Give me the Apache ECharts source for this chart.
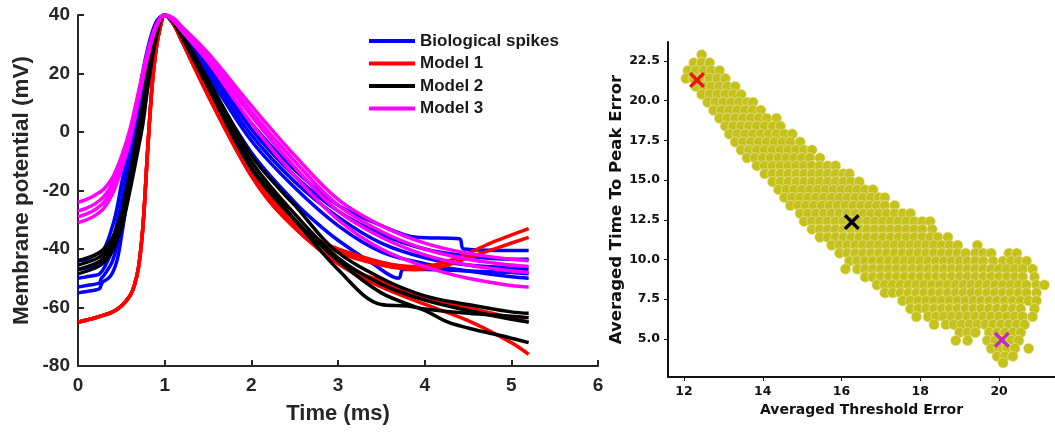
<!DOCTYPE html>
<html>
<head>
<meta charset="utf-8">
<script src="https://cdn.jsdelivr.net/npm/echarts@6/dist/echarts.min.js"></script>
<style>
html,body{margin:0;padding:0;background:#fff;}
#c{width:1055px;height:432px;}
</style>
</head>
<body>
<div id="c"></div>
<script>
// ---------- Left panel: action potential traces ([time ms, mV]) ----------
const legendNames = ['Biological spikes', 'Model 1', 'Model 2', 'Model 3'];
const xTicksLeft = [0, 1, 2, 3, 4, 5, 6];
const yTicksLeft = [-80, -60, -40, -20, 0, 20, 40];

const bio1 = [[0,-44],[0.1,-43.5],[0.2,-42],[0.3,-40],[0.4,-32],[0.45,-26],[0.5,-18],[0.6,-3],[0.7,13],[0.8,28],[0.9,37.5],[1.0,40],[1.1,38],[1.2,34],[1.5,23],[2.0,3],[2.5,-13],[3.0,-25],[3.5,-32],[3.9,-36],[4.4,-36.5],[4.45,-40],[5.0,-40.5],[5.2,-40.5]];
const bio2 = [[0,-47],[0.1,-46.5],[0.2,-45.5],[0.25,-45],[0.3,-44],[0.4,-37],[0.5,-24],[0.6,-7],[0.7,9],[0.8,26],[0.9,37],[1.0,40],[1.1,38],[1.2,33.5],[1.5,22],[2.0,1],[2.5,-15],[3.0,-27],[3.5,-35],[4.0,-40],[4.5,-42.5],[5.0,-43.5],[5.2,-43.5]];
const bio3 = [[0,-50],[0.1,-49.5],[0.2,-49],[0.25,-48.5],[0.3,-46.5],[0.4,-40],[0.5,-27],[0.6,-10],[0.7,7],[0.8,25],[0.9,36.5],[1.0,40],[1.1,37.5],[1.2,33],[1.5,20.5],[2.0,-1],[2.5,-17],[3.0,-29],[3.5,-38],[4.0,-43],[4.5,-45.5],[5.0,-46.5],[5.2,-47]];
const bio4 = [[0,-53],[0.1,-52.5],[0.2,-52],[0.25,-51.5],[0.27,-50],[0.3,-49],[0.4,-44],[0.5,-32],[0.6,-13],[0.7,4],[0.8,23],[0.9,36],[1.0,40],[1.1,37.5],[1.2,32.5],[1.5,19.5],[2.0,-3],[2.5,-19],[3.0,-32],[3.5,-41],[4.0,-45],[4.5,-47.5],[5.0,-49.5],[5.2,-50]];
const bio5 = [[0,-55],[0.1,-54.5],[0.2,-54],[0.25,-53.5],[0.28,-51.5],[0.35,-50],[0.4,-48],[0.45,-44],[0.5,-36],[0.6,-17],[0.7,-2],[0.8,18],[0.9,34],[1.0,40],[1.1,37],[1.2,31.5],[1.5,17],[2.0,-7],[2.5,-24],[2.75,-31],[3.0,-37],[3.4,-45],[3.7,-50],[3.75,-47],[4.0,-47],[4.5,-47.5],[5.0,-48],[5.2,-48.5]];

const model1a = [[0,-65],[0.2,-63.5],[0.4,-61.5],[0.5,-59.5],[0.6,-56],[0.65,-52.5],[0.7,-46],[0.75,-32],[0.8,-8],[0.85,14],[0.9,28],[0.95,36],[1.0,40],[1.1,37],[1.2,31],[1.5,13],[2.0,-14],[2.37,-27],[2.5,-31],[2.75,-36.5],[3.0,-40],[3.5,-44.5],[3.87,-46],[4.1,-45.5],[4.42,-42.5],[4.8,-37.5],[5.2,-33]];
const model1b = [[0,-65],[0.2,-63.5],[0.4,-61.5],[0.5,-59.5],[0.6,-56],[0.65,-52.5],[0.7,-46],[0.75,-32],[0.8,-8],[0.85,14],[0.9,28],[0.95,36],[1.0,40],[1.1,37],[1.2,31],[1.5,13],[2.0,-14],[2.37,-27.5],[2.5,-31.5],[3.0,-41],[3.5,-45.5],[3.9,-47],[4.2,-46],[4.5,-43],[4.85,-39.5],[5.2,-36]];
const model1c = [[0,-65],[0.2,-63.5],[0.4,-61.5],[0.5,-59.5],[0.6,-56],[0.65,-52.5],[0.7,-46],[0.75,-32],[0.8,-8],[0.85,14],[0.9,28],[0.95,36],[1.0,40],[1.1,37],[1.2,31],[1.5,12.5],[2.0,-15],[2.37,-29],[3.0,-45],[3.5,-51],[4.0,-56.5],[4.5,-60],[5.0,-63.5],[5.2,-65]];
const model1d = [[0,-65],[0.2,-63.5],[0.4,-61.5],[0.5,-59.5],[0.6,-56],[0.65,-52.5],[0.7,-46],[0.75,-32],[0.8,-8],[0.85,14],[0.9,28],[0.95,36],[1.0,40],[1.1,37],[1.2,31],[1.5,12.5],[2.0,-15],[2.37,-29],[3.0,-45],[3.5,-53],[3.92,-58],[4.5,-64.5],[5.0,-72],[5.2,-76]];

const model2a = [[0,-44],[0.2,-42],[0.3,-40],[0.4,-36],[0.5,-28],[0.55,-21],[0.6,-14],[0.65,-6],[0.7,2],[0.75,10],[0.8,20],[0.9,34],[1.0,40],[1.1,38],[1.2,33.5],[1.5,18],[2.0,-8],[2.37,-21],[2.5,-25],[2.95,-40],[3.5,-50],[4.0,-56],[4.5,-59],[5.0,-61.5],[5.2,-62]];
const model2b = [[0,-45.5],[0.2,-43.5],[0.3,-41.5],[0.4,-37.5],[0.5,-30],[0.6,-16],[0.7,0],[0.8,18],[0.9,33.5],[1.0,40],[1.1,38],[1.2,33],[1.5,17],[2.0,-10],[2.5,-28],[3.0,-43],[3.5,-52],[4.0,-57.5],[4.5,-61],[5.0,-64],[5.2,-65]];
const model2c = [[0,-47],[0.2,-45],[0.3,-43],[0.4,-39],[0.5,-31.5],[0.6,-18],[0.7,-2.5],[0.8,16],[0.9,33],[1.0,40],[1.1,37.5],[1.2,32.5],[1.5,15.5],[2.0,-12],[2.34,-24],[2.5,-30],[3.0,-47],[3.5,-59],[3.8,-59.5],[4.0,-60.5],[4.5,-62],[5.0,-63],[5.2,-63.5]];
const model2d = [[0,-48.5],[0.2,-46.5],[0.3,-44.5],[0.4,-40.5],[0.5,-33],[0.6,-20],[0.7,-5],[0.75,3],[0.8,14],[0.9,32],[1.0,40],[1.1,37.5],[1.2,32.5],[1.5,15.5],[2.0,-12.5],[2.5,-30],[3.0,-44],[3.5,-55],[4.0,-61],[4.27,-65],[4.5,-67],[5.0,-70.5],[5.2,-72]];

const model3a = [[0,-24],[0.1,-23],[0.2,-21.5],[0.3,-19.5],[0.4,-15.5],[0.5,-8.5],[0.6,1],[0.7,14],[0.8,27],[0.9,36.5],[1.0,40],[1.1,39],[1.2,36],[1.5,27],[2.0,9],[2.5,-8],[3.0,-23],[3.5,-32],[4.0,-38],[4.5,-41.5],[5.0,-43.5],[5.2,-44]];
const model3b = [[0,-27],[0.1,-26],[0.2,-24.5],[0.3,-22],[0.4,-17.5],[0.5,-10],[0.6,0],[0.7,13],[0.8,26.5],[0.9,36],[1.0,40],[1.1,38.5],[1.2,35.5],[1.5,26],[2.0,7],[2.5,-10],[3.0,-25],[3.5,-34],[4.0,-40],[4.5,-43.5],[5.0,-45.5],[5.2,-46]];
const model3c = [[0,-29],[0.1,-28],[0.2,-26.5],[0.3,-24],[0.4,-19],[0.5,-11.5],[0.6,-1.5],[0.7,12],[0.8,26],[0.9,36],[1.0,40],[1.1,38.5],[1.2,35],[1.5,25],[2.0,5.5],[2.5,-12],[3.0,-27],[3.5,-36],[4.0,-42],[4.5,-45.5],[5.0,-47.5],[5.2,-48]];
const model3d = [[0,-31],[0.1,-30],[0.2,-28.5],[0.3,-26],[0.4,-21],[0.5,-13],[0.6,-3],[0.7,11],[0.8,25],[0.9,35.5],[1.0,40],[1.1,38],[1.2,34.5],[1.5,24],[2.0,3],[2.5,-15],[3.0,-30],[3.5,-40],[4.0,-46],[4.5,-50],[5.0,-52.5],[5.2,-53]];

// ---------- Right panel: error scatter ([y, x values...] rows read from the cloud) ----------
const xTicksRight = [12, 14, 16, 18, 20];
const yTicksRight = [5, 7.5, 10, 12.5, 15, 17.5, 20, 22.5];
const cloudRows = [
  [22.9, [12.45]],
  [22.4, [12.25, 12.45, 12.65]],
  [21.9, [12.1, 12.3, 12.5, 12.7, 12.9]],
  [21.4, [12.05, 12.25, 12.45, 12.65, 12.85, 13.05]],
  [20.9, [12.3, 12.5, 12.7, 12.9, 13.1, 13.3]],
  [20.4, [12.45, 12.65, 12.85, 13.05, 13.25, 13.45]],
  [19.9, [12.6, 12.8, 13.0, 13.2, 13.4, 13.6, 13.75]],
  [19.4, [12.75, 12.95, 13.15, 13.35, 13.55, 13.75, 13.95]],
  [18.9, [12.9, 13.1, 13.3, 13.5, 13.7, 13.9, 14.1, 14.35]],
  [18.4, [13.05, 13.25, 13.45, 13.65, 13.85, 14.05, 14.25, 14.45]],
  [17.9, [13.15, 13.35, 13.55, 13.75, 13.95, 14.15, 14.35, 14.55, 14.75]],
  [17.4, [13.3, 13.5, 13.7, 13.9, 14.1, 14.3, 14.5, 14.7, 14.95]],
  [16.9, [13.45, 13.65, 13.85, 14.05, 14.25, 14.45, 14.65, 14.85, 15.05, 15.25]],
  [16.4, [13.6, 13.8, 14.0, 14.2, 14.4, 14.6, 14.8, 15.0, 15.2, 15.45]],
  [15.9, [13.85, 14.05, 14.25, 14.45, 14.65, 14.85, 15.05, 15.25, 15.45, 15.65, 15.85]],
  [15.4, [14.05, 14.25, 14.45, 14.65, 14.85, 15.05, 15.25, 15.45, 15.65, 15.85, 16.05, 16.2]],
  [14.9, [14.25, 14.45, 14.65, 14.85, 15.05, 15.25, 15.45, 15.65, 15.85, 16.05, 16.25, 16.45]],
  [14.4, [14.4, 14.6, 14.8, 15.0, 15.2, 15.4, 15.6, 15.8, 16.0, 16.2, 16.4, 16.6, 16.8]],
  [13.9, [14.55, 14.75, 14.95, 15.15, 15.35, 15.55, 15.75, 15.95, 16.15, 16.35, 16.55, 16.75, 16.95, 17.1]],
  [13.4, [14.7, 14.9, 15.1, 15.3, 15.5, 15.7, 15.9, 16.1, 16.3, 16.5, 16.7, 16.9, 17.1, 17.35]],
  [12.9, [14.95, 15.15, 15.35, 15.55, 15.75, 15.95, 16.15, 16.35, 16.55, 16.75, 16.95, 17.15, 17.35, 17.55, 17.75]],
  [12.4, [15.05, 15.25, 15.45, 15.65, 15.85, 16.05, 16.25, 16.45, 16.65, 16.85, 17.05, 17.25, 17.45, 17.65, 17.85, 18.05, 18.25]],
  [11.9, [15.25, 15.45, 15.65, 15.85, 16.05, 16.25, 16.45, 16.65, 16.85, 17.05, 17.25, 17.45, 17.65, 17.85, 18.05, 18.3]],
  [11.4, [15.45, 15.65, 15.85, 16.05, 16.25, 16.45, 16.65, 16.85, 17.05, 17.25, 17.45, 17.65, 17.85, 18.05, 18.25, 18.45, 18.7]],
  [10.9, [15.75, 15.95, 16.15, 16.35, 16.55, 16.75, 16.95, 17.15, 17.35, 17.55, 17.75, 17.95, 18.15, 18.35, 18.55, 18.75, 18.95, 19.45]],
  [10.4, [15.95, 16.15, 16.35, 16.55, 16.75, 16.95, 17.15, 17.35, 17.55, 17.75, 17.95, 18.15, 18.35, 18.55, 18.75, 18.95, 19.15, 19.4, 19.6, 19.8, 20.25, 20.45]],
  [9.9, [16.2, 16.4, 16.6, 16.8, 17.0, 17.2, 17.4, 17.6, 17.8, 18.0, 18.2, 18.4, 18.6, 18.8, 19.0, 19.2, 19.4, 19.6, 19.85, 20.1, 20.3, 20.5, 20.7]],
  [9.4, [16.1, 16.4, 16.6, 16.8, 17.0, 17.2, 17.4, 17.6, 17.8, 18.0, 18.2, 18.4, 18.6, 18.8, 19.0, 19.2, 19.4, 19.6, 19.8, 20.0, 20.2, 20.4, 20.6, 20.85]],
  [8.9, [16.6, 16.8, 17.0, 17.2, 17.4, 17.6, 17.8, 18.0, 18.2, 18.4, 18.6, 18.8, 19.0, 19.2, 19.4, 19.6, 19.8, 20.0, 20.2, 20.4, 20.6, 20.9]],
  [8.4, [16.9, 17.1, 17.3, 17.5, 17.7, 17.9, 18.1, 18.3, 18.5, 18.7, 18.9, 19.1, 19.3, 19.5, 19.7, 19.9, 20.1, 20.3, 20.5, 20.7, 20.95, 21.15]],
  [7.9, [17.1, 17.3, 17.5, 17.7, 17.9, 18.1, 18.3, 18.5, 18.7, 18.9, 19.1, 19.3, 19.5, 19.7, 19.9, 20.1, 20.3, 20.5, 20.7, 20.95]],
  [7.4, [17.55, 17.75, 17.95, 18.15, 18.35, 18.55, 18.75, 18.95, 19.15, 19.35, 19.55, 19.75, 19.95, 20.15, 20.35, 20.55, 20.75, 20.95]],
  [6.9, [17.75, 17.95, 18.15, 18.35, 18.55, 18.75, 18.95, 19.15, 19.35, 19.55, 19.75, 19.95, 20.15, 20.35, 20.55, 20.9]],
  [6.4, [17.9, 18.2, 18.4, 18.6, 18.8, 19.0, 19.2, 19.4, 19.6, 19.8, 20.0, 20.2, 20.4, 20.6, 20.85]],
  [5.9, [18.35, 18.65, 18.85, 19.05, 19.25, 19.45, 19.65, 19.85, 20.05, 20.25, 20.45, 20.65]],
  [5.4, [19.0, 19.2, 19.4, 19.75, 19.95, 20.15, 20.35, 20.55]],
  [4.9, [18.9, 19.2, 19.7, 19.9, 20.1, 20.3, 20.5]],
  [4.4, [19.8, 20.0, 20.2, 20.4, 20.75]],
  [3.9, [19.95, 20.15, 20.35]],
  [3.5, [20.1]]
];
const bestModel1 = [[12.33, 21.3]];
const bestModel2 = [[16.26, 12.36]];
const bestModel3 = [[20.07, 4.94]];

// ---------- build ----------
const cloud = [];
cloudRows.forEach(function (r) { r[1].forEach(function (x) { cloud.push([x, r[0]]); }); });

const FONT_L = 'Liberation Sans, Arial, sans-serif';
const FONT_R = 'DejaVu Sans, sans-serif';
const groupColors = { 'Biological spikes': '#0000ff', 'Model 1': '#ff0000', 'Model 2': '#000000', 'Model 3': '#ff00ff' };

function traceSeries(name, data, z) {
  return {
    type: 'line', name: name, xAxisIndex: 0, yAxisIndex: 0, data: data,
    smooth: 0.35, showSymbol: false, symbol: 'none', z: z,
    color: groupColors[name],
    lineStyle: { color: groupColors[name], width: 3.5 },
    itemStyle: { color: groupColors[name] },
    emphasis: { disabled: true }, animation: false
  };
}
const xPath = 'path://M3,0 L10,7 L17,0 L20,3 L13,10 L20,17 L17,20 L10,13 L3,20 L0,17 L7,10 L0,3 Z';
function markerSeries(data, color) {
  return {
    type: 'scatter', xAxisIndex: 1, yAxisIndex: 1, data: data, symbol: xPath, symbolSize: 16,
    itemStyle: { color: color, opacity: 1 }, z: 10, animation: false, emphasis: { disabled: true }
  };
}

const series = [];
[bio1, bio2, bio3, bio4, bio5].forEach(function (d) { series.push(traceSeries('Biological spikes', d, 2)); });
[model1a, model1b, model1c, model1d].forEach(function (d) { series.push(traceSeries('Model 1', d, 3)); });
[model2a, model2b, model2c, model2d].forEach(function (d) { series.push(traceSeries('Model 2', d, 4)); });
[model3a, model3b, model3c, model3d].forEach(function (d) { series.push(traceSeries('Model 3', d, 5)); });
series.push({
  type: 'scatter', name: 'cloud', xAxisIndex: 1, yAxisIndex: 1, data: cloud, symbolSize: 10.5,
  itemStyle: { color: '#c6c21c', borderColor: '#ece9b0', borderWidth: 0.6, opacity: 1 },
  z: 2, animation: false, emphasis: { disabled: true }
});
series.push(markerSeries(bestModel1, '#ee1111'));
series.push(markerSeries(bestModel2, '#000000'));
series.push(markerSeries(bestModel3, '#c026c8'));

const axisColL = '#262626';
const option = {
  backgroundColor: '#ffffff',
  animation: false,
  legend: {
    data: legendNames, orient: 'vertical', left: 364, top: 27,
    icon: 'rect', itemWidth: 46, itemHeight: 4, itemGap: 4.5,
    textStyle: { fontFamily: FONT_L, fontWeight: 'bold', fontSize: 17, color: '#1a1a1a', lineHeight: 18 },
    selectedMode: false
  },
  grid: [
    { left: 78, top: 15, width: 520, height: 351, containLabel: false },
    { left: 668, top: 42, width: 387, height: 335, containLabel: false }
  ],
  xAxis: [
    {
      gridIndex: 0, type: 'value', min: 0, max: 6, interval: 1,
      axisLine: { onZero: false, lineStyle: { color: axisColL, width: 2 } },
      axisTick: { inside: true, length: 6, lineStyle: { color: axisColL, width: 2 } },
      axisLabel: { color: axisColL, fontFamily: FONT_L, fontWeight: 'bold', fontSize: 19, margin: 10,
        formatter: function (v) { return xTicksLeft.indexOf(v) >= 0 ? String(v) : ''; } },
      splitLine: { show: false },
      name: 'Time (ms)', nameLocation: 'middle', nameGap: 37,
      nameTextStyle: { color: axisColL, fontFamily: FONT_L, fontWeight: 'bold', fontSize: 22 }
    },
    {
      gridIndex: 1, type: 'value', min: 11.594, max: 21.42,
      axisLine: { onZero: false, lineStyle: { color: '#111', width: 2 } },
      axisTick: { show: true, length: 4, customValues: xTicksRight, lineStyle: { color: '#111', width: 1 } },
      axisLabel: { customValues: xTicksRight, color: '#111', fontFamily: FONT_R, fontWeight: 'bold', fontSize: 12.5, margin: 8 },
      splitLine: { show: false },
      name: 'Averaged Threshold Error', nameLocation: 'middle', nameGap: 26,
      nameTextStyle: { color: '#111', fontFamily: FONT_R, fontWeight: 'bold', fontSize: 14 }
    }
  ],
  yAxis: [
    {
      gridIndex: 0, type: 'value', min: -80, max: 40, interval: 20,
      axisLine: { show: true, onZero: false, lineStyle: { color: axisColL, width: 2 } },
      axisTick: { show: true, inside: true, length: 6, lineStyle: { color: axisColL, width: 2 } },
      axisLabel: { color: axisColL, fontFamily: FONT_L, fontWeight: 'bold', fontSize: 19, margin: 8,
        formatter: function (v) { return yTicksLeft.indexOf(v) >= 0 ? String(v) : ''; } },
      splitLine: { show: false },
      name: 'Membrane potential (mV)', nameLocation: 'middle', nameGap: 45,
      nameTextStyle: { color: axisColL, fontFamily: FONT_L, fontWeight: 'bold', fontSize: 22.5 }
    },
    {
      gridIndex: 1, type: 'value', min: 2.6, max: 23.7,
      axisLine: { show: true, onZero: false, lineStyle: { color: '#111', width: 2 } },
      axisTick: { show: true, length: 4, customValues: yTicksRight, lineStyle: { color: '#111', width: 1 } },
      axisLabel: { customValues: yTicksRight, color: '#111', fontFamily: FONT_R, fontWeight: 'bold', fontSize: 12.5, margin: 8,
        formatter: function (v) { return Number(v).toFixed(1); } },
      splitLine: { show: false },
      name: 'Averaged Time To Peak Error', nameLocation: 'middle', nameGap: 40,
      nameTextStyle: { color: '#111', fontFamily: FONT_R, fontWeight: 'bold', fontSize: 16.5 }
    }
  ],
  series: series
};

const chart = echarts.init(document.getElementById('c'), null, { renderer: 'canvas' });
chart.setOption(option);
</script>
</body>
</html>
